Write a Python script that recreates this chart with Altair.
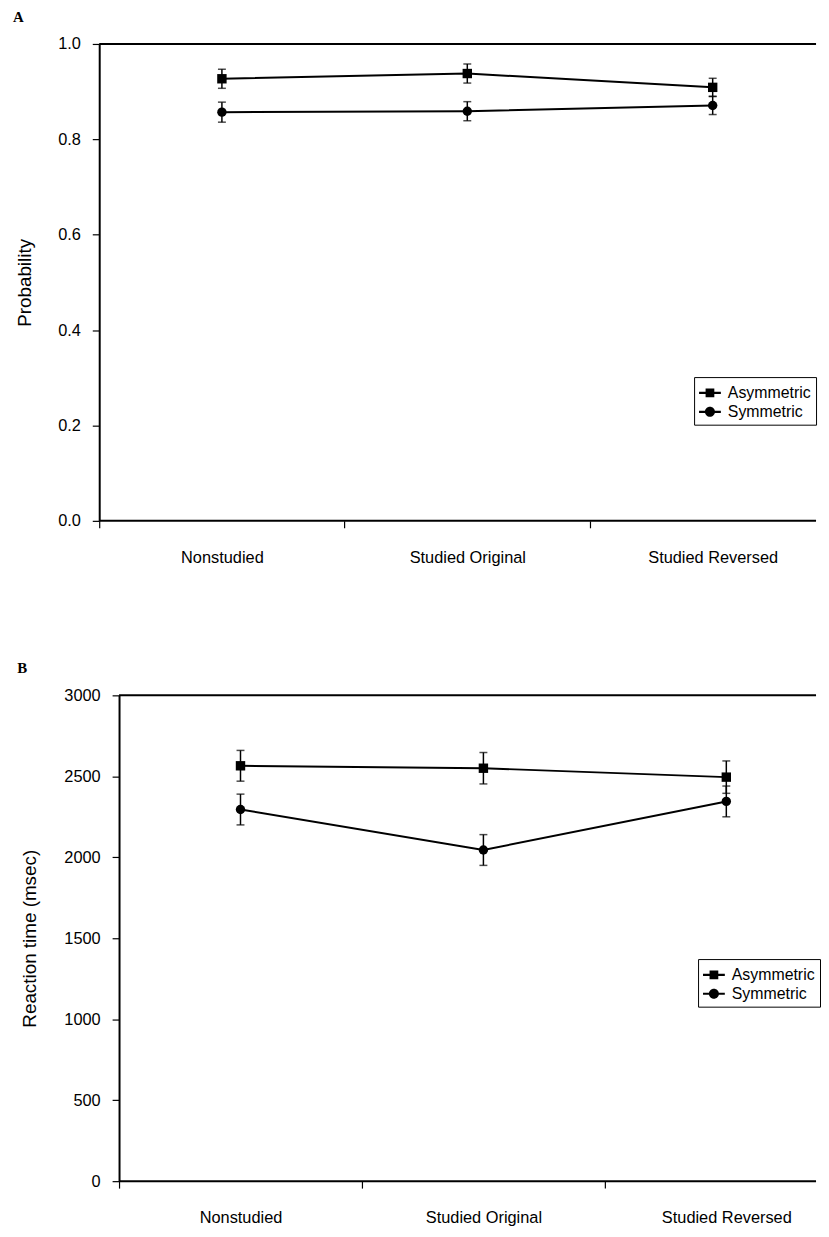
import json
import altair as alt
import pandas as pd

# ---- data ----
categories = ["Nonstudied", "Studied Original", "Studied Reversed"]
series_names = ["Asymmetric", "Symmetric"]

prob_asym = [0.927, 0.938, 0.909]
prob_asym_err = [0.020, 0.020, 0.019]
prob_sym = [0.857, 0.859, 0.871]
prob_sym_err = [0.021, 0.020, 0.019]

rt_asym = [2565, 2550, 2495]
rt_asym_err = [95, 97, 100]
rt_sym = [2295, 2045, 2345]
rt_sym_err = [95, 95, 95]

prob_ticks = [0.0, 0.2, 0.4, 0.6, 0.8, 1.0]
rt_ticks = [0, 500, 1000, 1500, 2000, 2500, 3000]


def make_df(asym, asym_err, sym, sym_err):
    rows = []
    for name, vals, errs in ((series_names[0], asym, asym_err),
                             (series_names[1], sym, sym_err)):
        for i, (v, e) in enumerate(zip(vals, errs)):
            rows.append({"idx": i, "category": categories[i], "series": name,
                         "value": v, "lo": v - e, "hi": v + e})
    return pd.DataFrame(rows)


# legend symbols: a filled thin bar (the line) plus the marker, all filled, clockwise
SQUARE_PATH = "M-1,-0.1H1V0.1H-1Z M-0.4,-0.4H0.4V0.4H-0.4Z"
CIRCLE_PATH = ("M-1,-0.1H1V0.1H-1Z M-0.46,0A0.46,0.46 0 1,1 0.46,0"
               "A0.46,0.46 0 1,1 -0.46,0Z")

label_expr = json.dumps(categories) + "[datum.value]"
FONT = "Liberation Sans"


def panel(df, ticks, ymax, letter, ytitle, width, height, step, fmt,
          legend_x, legend_y, title_pad, yaxis_shift, title_offset):
    xmin = -0.5 - yaxis_shift / step
    xmax = xmin + width / step
    xscale = alt.Scale(domain=[xmin, xmax], nice=False, zero=False)
    yscale = alt.Scale(domain=[0, ymax], nice=False, zero=True)
    x = alt.X("idx:Q", scale=xscale,
              axis=alt.Axis(values=[0, 1, 2], labelExpr=label_expr, title=None,
                            tickOffset=-step / 2, labelOffset=step / 2,
                            labelFlush=False, grid=False, tickSize=7,
                            labelPadding=22, domain=False, tickWidth=1.2))
    y = alt.Y("value:Q", scale=yscale,
              axis=alt.Axis(values=ticks, format=fmt, title=ytitle,
                            titlePadding=title_pad, grid=False, tickSize=7,
                            labelPadding=12, domainWidth=2, tickWidth=1.2,
                            offset=-yaxis_shift))
    frame_df = pd.DataFrame({"x0": [-0.5, -0.5], "x1": [xmax, xmax],
                             "yv": [0, ymax]})
    frame = alt.Chart(frame_df).mark_rule(color="black", strokeWidth=2).encode(
        x=alt.X("x0:Q", scale=xscale), x2="x1:Q", y=alt.Y("yv:Q", scale=yscale))
    base = alt.Chart(df)
    line = base.mark_line(color="black", strokeWidth=2).encode(
        x=x, y=y, detail="series:N")
    err = base.mark_rule(color="black", strokeWidth=1.5).encode(
        x="idx:Q", y="lo:Q", y2="hi:Q")
    cap_lo = base.mark_tick(orient="horizontal", color="black", size=8,
                            thickness=1.5).encode(x="idx:Q", y="lo:Q")
    cap_hi = base.mark_tick(orient="horizontal", color="black", size=8,
                            thickness=1.5).encode(x="idx:Q", y="hi:Q")
    pts = base.mark_point(filled=True, color="black", opacity=1, size=90).encode(
        x="idx:Q", y="value:Q",
        shape=alt.Shape("series:N",
                        scale=alt.Scale(domain=series_names, range=["square", "circle"]),
                        legend=None))
    leg = alt.Chart(df).transform_filter("false").mark_point(
        filled=True, color="black", opacity=1
    ).encode(
        shape=alt.Shape("series:N",
                        scale=alt.Scale(domain=series_names,
                                        range=[SQUARE_PATH, CIRCLE_PATH]),
                        legend=alt.Legend(title=None, orient="none",
                                          legendX=legend_x, legendY=legend_y,
                                          strokeColor="black", fillColor="white",
                                          padding=5, symbolSize=484,
                                          symbolStrokeWidth=0,
                                          symbolFillColor="black",
                                          symbolOpacity=1,
                                          labelFont=FONT, labelFontSize=16,
                                          labelColor="black", labelOffset=7,
                                          rowPadding=0)))
    return alt.layer(frame, line, err, cap_lo, cap_hi, pts, leg).resolve_scale(
        shape="independent"
    ).properties(
        width=width, height=height,
        title=alt.TitleParams(letter, anchor="start", frame="bounds",
                              font="Liberation Serif", fontSize=15,
                              fontWeight="bold", offset=title_offset, dx=-3,
                              color="black"),
    )


df_a = make_df(prob_asym, prob_asym_err, prob_sym, prob_sym_err)
df_b = make_df(rt_asym, rt_asym_err, rt_sym, rt_sym_err)

chart_a = panel(df_a, prob_ticks, 1.0, "A", "Probability", 723, 481, 247.5, ".1f",
                600, 336, 23, 0, 11)
chart_b = panel(df_b, rt_ticks, 3000, "B", "Reaction time (msec)", 723, 490, 245, "d",
                604, 266, 25, 20, 12)

chart = alt.concat(chart_a, chart_b, columns=1, spacing=95).properties(
    padding={"left": 5, "top": -3, "right": 0, "bottom": 0}
).configure_axis(
    labelFont=FONT, titleFont=FONT, labelFontSize=16.5, titleFontSize=19,
    titleFontWeight="normal", labelColor="black", titleColor="black",
    domainColor="black", tickColor="black",
).configure_view(stroke=None)

chart.save("out.html", embed_options={"renderer": "svg", "actions": False})
